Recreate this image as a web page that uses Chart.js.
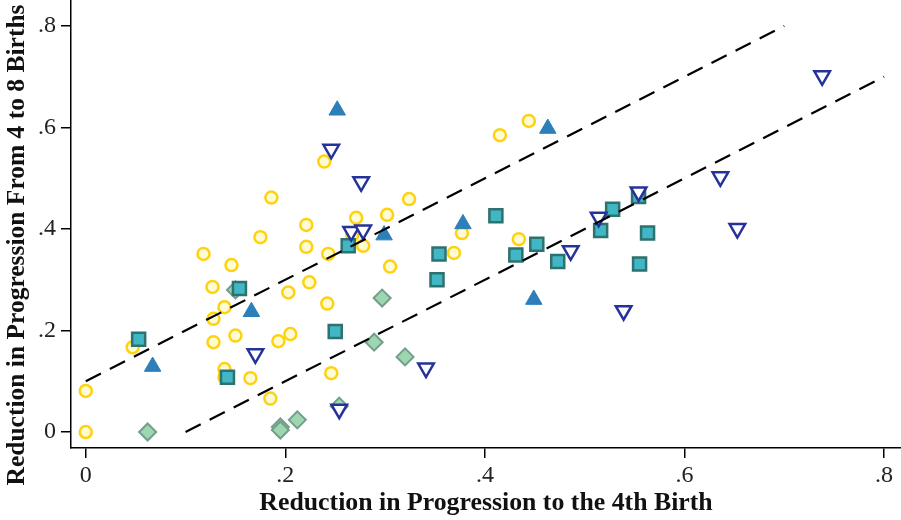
<!DOCTYPE html>
<html><head><meta charset="utf-8">
<script src="https://cdn.jsdelivr.net/npm/chart.js@4"></script>
<style>html,body{margin:0;padding:0;background:#fff}#wrap{width:901px;height:520px}</style>
</head><body><div id="wrap"><canvas id="c" width="901" height="520"></canvas></div>
<script>
// ---- data ----
const xTickValues = [0, 0.2, 0.4, 0.6, 0.8];
const yTickValues = [0, 0.2, 0.4, 0.6, 0.8];
const xTitle = "Reduction in Progression to the 4th Birth";
const yTitle = "Reduction in Progression From 4 to 8 Births";

const circleX = [0, 0, 0.047, 0.118, 0.146, 0.127, 0.139, 0.128, 0.128, 0.150, 0.139, 0.139, 0.165, 0.175, 0.185, 0.203, 0.193, 0.205, 0.221, 0.221, 0.224, 0.242, 0.246, 0.243, 0.278, 0.271, 0.239, 0.186, 0.267, 0.444, 0.415, 0.324, 0.302, 0.305, 0.377, 0.369, 0.434];
const circleY = [0, 0.081, 0.167, 0.351, 0.329, 0.286, 0.246, 0.223, 0.177, 0.190, 0.124, 0.108, 0.106, 0.384, 0.066, 0.275, 0.179, 0.193, 0.408, 0.365, 0.295, 0.253, 0.116, 0.351, 0.367, 0.422, 0.533, 0.462, 0.388, 0.613, 0.585, 0.459, 0.428, 0.326, 0.392, 0.353, 0.380];

const triUpX = [0.067, 0.166, 0.252, 0.299, 0.378, 0.463, 0.449];
const triUpY = [0.129, 0.237, 0.634, 0.388, 0.410, 0.598, 0.261];

const triDownX = [0.246, 0.276, 0.266, 0.278, 0.170, 0.254, 0.341, 0.486, 0.514, 0.539, 0.738, 0.636, 0.653, 0.554];
const triDownY = [0.557, 0.493, 0.395, 0.398, 0.154, 0.045, 0.126, 0.357, 0.423, 0.239, 0.702, 0.503, 0.401, 0.473];

const squareX = [0.053, 0.154, 0.142, 0.250, 0.263, 0.354, 0.352, 0.411, 0.431, 0.452, 0.473, 0.516, 0.528, 0.554, 0.563, 0.555];
const squareY = [0.183, 0.283, 0.108, 0.198, 0.367, 0.351, 0.300, 0.426, 0.349, 0.370, 0.336, 0.397, 0.439, 0.464, 0.392, 0.331];

const diamondX = [0.062, 0.150, 0.195, 0.195, 0.212, 0.254, 0.297, 0.289, 0.320];
const diamondY = [0.000, 0.280, 0.010, 0.004, 0.024, 0.051, 0.264, 0.177, 0.148];

const upperLineX = [0, 0.7];
const upperLineY = [0.1, 0.8];
const lowerLineX = [0.1, 0.8];
const lowerLineY = [0, 0.7];

// ---- build ----
const pts = (xs, ys) => xs.map((x, i) => ({x: x, y: ys[i]}));
const fmt = v => v === 0 ? '0' : String(Math.round(v * 10) / 10).replace(/^0/, '');
const FONT = "'Liberation Serif', 'DejaVu Serif', serif";
Chart.defaults.font.family = FONT;

const noPad = s => { s.paddingLeft = 0; s.paddingRight = 0; s.paddingTop = 0; s.paddingBottom = 0; };

const yTitlePlugin = {
  id: 'yTitle',
  afterDraw(chart) {
    const ctx = chart.ctx;
    ctx.save();
    ctx.translate(17, 245);
    ctx.rotate(-Math.PI / 2);
    ctx.font = "bold 25.5px " + FONT;
    ctx.fillStyle = '#111';
    ctx.textAlign = 'center';
    ctx.textBaseline = 'middle';
    ctx.fillText(yTitle, 0, 0);
    ctx.restore();
  }
};

new Chart(document.getElementById('c'), {
  type: 'scatter',
  plugins: [yTitlePlugin],
  data: {
    datasets: [
      {type: 'line', data: pts(upperLineX, upperLineY), borderColor: '#000', borderWidth: 2.2, borderDash: [17, 10], pointRadius: 0, fill: false, order: 0},
      {type: 'line', data: pts(lowerLineX, lowerLineY), borderColor: '#000', borderWidth: 2.2, borderDash: [17, 10], pointRadius: 0, fill: false, order: 0},
      {data: pts(triDownX, triDownY), pointStyle: 'triangle', rotation: 180, pointRadius: 9, borderWidth: 2.5, borderColor: '#25329A', backgroundColor: '#ffffff', order: 1},
      {data: pts(squareX, squareY), pointStyle: 'rect', pointRadius: 9.2, borderWidth: 2.5, borderColor: '#2E726F', backgroundColor: '#41B6C4', order: 2},
      {data: pts(diamondX, diamondY), pointStyle: 'rectRot', pointRadius: 8.5, borderWidth: 2, borderColor: '#739F8A', backgroundColor: '#9DD7B2', order: 3},
      {data: pts(triUpX, triUpY), pointStyle: 'triangle', pointRadius: 9.5, borderWidth: 1, borderColor: '#2C7FB8', backgroundColor: '#2C7FB8', order: 4},
      {data: pts(circleX, circleY), pointStyle: 'circle', pointRadius: 6, borderWidth: 2.5, borderColor: '#FFD20F', backgroundColor: '#FFFBD2', order: 5}
    ]
  },
  options: {
    responsive: false,
    animation: false,
    clip: false,
    layout: {padding: 0, autoPadding: false},
    plugins: {legend: {display: false}, tooltip: {enabled: false}},
    scales: {
      x: {
        type: 'linear', min: -0.0148, max: 0.817,
        afterBuildTicks: s => { s.ticks = xTickValues.map(v => ({value: v})); },
        afterFit: s => { s.height = 72; noPad(s); },
        grid: {drawOnChartArea: false, drawTicks: true, tickLength: 10, color: '#000', lineWidth: 1.5},
        border: {display: true, color: '#000', width: 1.5},
        ticks: {callback: v => fmt(v), color: '#222', font: {size: 24}, padding: 3, maxRotation: 0, autoSkip: false},
        title: {display: true, text: xTitle, color: '#111', font: {size: 25.8, weight: 'bold'}, padding: {top: 0, bottom: 1}}
      },
      y: {
        type: 'linear', min: -0.0315, max: 0.8513,
        afterBuildTicks: s => { s.ticks = yTickValues.map(v => ({value: v})); },
        afterFit: s => { s.width = 71; noPad(s); },
        grid: {drawOnChartArea: false, drawTicks: true, tickLength: 10, color: '#000', lineWidth: 1.5},
        border: {display: true, color: '#000', width: 1.5},
        ticks: {callback: v => fmt(v), color: '#222', font: {size: 24}, padding: 5, autoSkip: false},
        title: {display: false}
      }
    }
  }
});
</script>
</body></html>
